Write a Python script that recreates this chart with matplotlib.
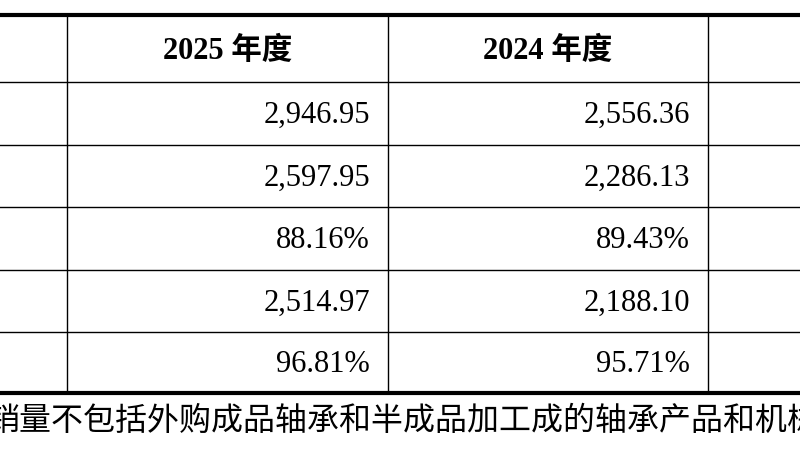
import matplotlib
matplotlib.use("Agg")
import matplotlib.pyplot as plt

headers = ["2025 年度", "2024 年度"]
col2025 = ["2,946.95", "2,597.95", "88.16%", "2,514.97", "96.81%"]
col2024 = ["2,556.36", "2,286.13", "89.43%", "2,188.10", "95.71%"]
note = "销量不包括外购成品轴承和半成品加工成的轴承产品和机械"

fig = plt.figure(figsize=(8, 4.5), dpi=100)
ax = fig.add_axes([0, 0, 1, 1])
ax.set_xlim(0, 800); ax.set_ylim(450, 0); ax.axis("off")

rows = [15, 82, 145, 207, 270, 332, 393]
for i, y in enumerate(rows):
    lw = 3 if i in (0, len(rows) - 1) else 1
    ax.plot([0, 800], [y, y], color="black", lw=lw)
for x in [67, 388, 708]:
    ax.plot([x, x], [rows[0], rows[-1]], color="black", lw=1)

serif = ["Liberation Serif", "Noto Sans CJK SC"]
for h, xc in zip(headers, [228, 548]):
    ax.text(xc, 51, h, ha="center", va="center",
            fontsize=22, fontweight="bold", family=serif)
for j, (a, b) in enumerate(zip(col2025, col2024)):
    yc = (rows[j + 1] + rows[j + 2]) / 2 + 2
    ax.text(370, yc, a, ha="right", va="center", fontsize=22, family=serif)
    ax.text(690, yc, b, ha="right", va="center", fontsize=22, family=serif)

ax.text(-12, 421, note, ha="left", va="center", fontsize=23,
        family=["Noto Sans CJK SC", "DejaVu Sans"])
fig.savefig("out.png", dpi=100)
